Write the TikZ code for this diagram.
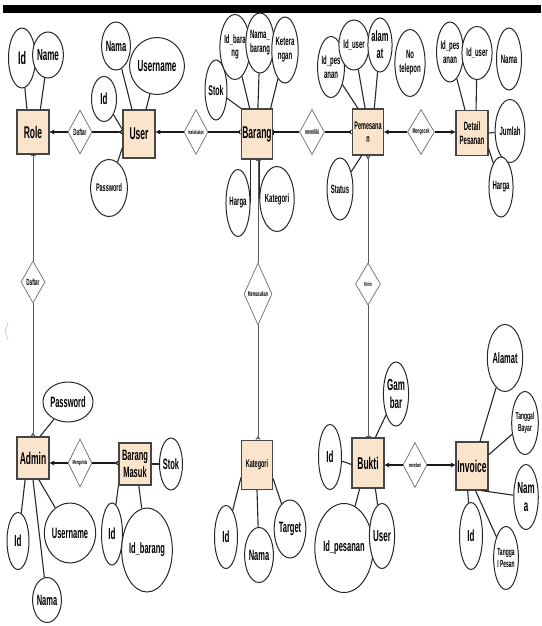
\documentclass[tikz,border=0pt]{standalone}
\usepackage{fontspec}
\setmainfont{Liberation Sans}[FakeStretch=0.5]
\usetikzlibrary{shapes.geometric,arrows.meta,shadows}
\definecolor{entfill}{RGB}{250,228,204}
\definecolor{entbdr}{RGB}{70,70,70}
\definecolor{attbdr}{RGB}{40,40,40}
\definecolor{relbdr}{RGB}{110,110,110}
\definecolor{lnclr}{RGB}{25,25,25}
\definecolor{vlnclr}{RGB}{90,90,90}
\tikzset{
  %% entity box
  ent/.style 2 args={rectangle,draw=entbdr,fill=entfill,line width=1.1pt,
    inner sep=0pt,align=center,minimum width=#1,minimum height=#2,
    drop shadow={shadow xshift=0.8pt,shadow yshift=-0.8pt,fill=black!45}},
  %% attribute oval
  att/.style 2 args={ellipse,draw=attbdr,fill=white,line width=1pt,
    inner sep=0pt,align=center,minimum width=#1,minimum height=#2},
  %% relationship diamond
  rel/.style 2 args={diamond,draw=relbdr,fill=white,line width=0.7pt,
    inner sep=0pt,align=center,minimum width=#1,minimum height=#2},
  %% text sizes
  fs/.style={font=\bfseries\fontsize{#1}{#1}\selectfont\setlength\baselineskip{1.15em}},
  %% lines
  lnk/.style={line width=1.8pt,draw=lnclr},
  vlnk/.style={line width=0.8pt,draw=vlnclr},
  aln/.style={line width=1.1pt,draw=attbdr},
  tipin/.tip={Stealth[length=5pt,width=5pt]},
  tipmany/.tip={Stealth[reversed,length=4pt,width=5pt]},
  tipone/.tip={Bar[width=5pt,line width=1pt]},
}
\begin{document}
\begin{tikzpicture}[x=1pt,y=-1pt]
  \fill[white] (0,0) rectangle (541,626);
  \useasboundingbox (0,0) rectangle (541,626);
  \fill[black] (3,5) rectangle (541,13);
  \draw[black!25,line width=0.6pt] (8,323) -- (5,331) -- (8,340);

  %% entities
  \node[ent={32}{44},fs=17] (role)      at (33,132)  {Role};
  \node[ent={32}{48},fs=17] (user)      at (139,134) {User};
  \node[ent={31}{50},fs=17] (barang)    at (257,134) {Barang};
  \node[ent={31}{46},fs=11] (pemesanan) at (368,132) {Pemesana\\n};
  \node[ent={32}{45},fs=12] (detail)    at (472,133) {Detail\\Pesanan};
  \node[ent={32}{42},fs=17] (admin)     at (33,458)  {Admin};
  \node[ent={32}{42},fs=15] (bmasuk)    at (135,464) {Barang\\Masuk};
  \node[ent={31}{49},fs=11] (kategori)  at (257,465) {Kategori};
  \node[ent={32}{50},fs=17] (bukti)     at (368,463) {Bukti};
  \node[ent={32}{48},fs=17] (invoice)   at (472,466) {Invoice};

  %% relationships
  \node[rel={24}{44},fs=9] (daftarA)   at (80,132)  {Daftar};
  \node[rel={24}{45},fs=6] (melakukan) at (196,132) {melakukan};
  \node[rel={25}{45},fs=7] (memiliki)  at (312,132) {memiliki};
  \node[rel={27}{45},fs=7] (mengecek)  at (421,132) {Mengecek};
  \node[rel={24}{42},fs=9] (daftarB)   at (33,282)  {Daftar};
  \node[rel={28}{62},fs=7] (memasukan) at (258,294) {Memasukan};
  \node[rel={25}{42},fs=6] (kirim)     at (368,284) {Kirim};
  \node[rel={24}{48},fs=6] (mengelola) at (80,463)  {Mengelola};
  \node[rel={24}{45},fs=6] (memberi)   at (415,465) {memberi};

  %% attributes: Role, User
  \node[att={27}{60},fs=18] (rid)    at (22,58)  {Id};
  \node[att={26}{46},fs=16] (rname)  at (48,55)  {Name};
  \node[att={25}{48},fs=15] (unama)  at (116,46) {Nama};
  \node[att={40}{57},fs=16] (uuser)  at (157,66) {Username};
  \node[att={25}{45},fs=16] (uid)    at (104,99) {Id};
  \node[att={35}{57},fs=11] (upass)  at (109,188) {Password};
  %% attributes: Barang
  \node[att={22}{60},fs=14] (bstok)  at (216,90) {Stok};
  \node[att={25}{65},fs=12] (bid)    at (235,47) {Id\_bara\\ng};
  \node[att={24}{60},fs=12] (bnama)  at (260,43) {Nama\_\\barang};
  \node[att={24}{66},fs=12] (bket)   at (285,50) {Ketera\\ngan};
  \node[att={23}{67},fs=12] (bharga) at (238,203) {Harga};
  \node[att={29}{65},fs=12] (bkat)   at (277,199) {Kategori};
  %% attributes: Pemesanan, Detail Pesanan
  \node[att={23}{61},fs=12] (pidp)   at (331,67) {Id\_pes\\anan};
  \node[att={25}{50},fs=12] (pidu)   at (354,45) {Id\_user};
  \node[att={23}{54},fs=15] (palam)  at (380,45) {alam\\at};
  \node[att={24}{67},fs=12] (ptelp)  at (410,63) {No\\telepon};
  \node[att={25}{62},fs=12] (pstat)  at (340,189) {Status};
  \node[att={25}{60},fs=12] (didp)   at (450,52) {Id\_pes\\anan};
  \node[att={25}{53},fs=12] (didu)   at (477,53) {Id\_user};
  \node[att={25}{62},fs=12] (dnama)  at (509,59) {Nama};
  \node[att={24}{63},fs=12] (djml)   at (510,131) {Jumlah};
  \node[att={23}{60},fs=12] (dharga) at (501,187) {Harga};
  %% attributes: Admin, Barang Masuk
  \node[att={43}{40},fs=15] (apass)  at (68,402) {Password};
  \node[att={22}{57},fs=16] (aid)    at (18,541) {Id};
  \node[att={40}{60},fs=15] (auser)  at (70,533) {Username};
  \node[att={23}{45},fs=15] (anama)  at (47,600) {Nama};
  \node[att={22}{52},fs=15] (mstok)  at (171,464) {Stok};
  \node[att={21}{62},fs=16] (mid)    at (112,534) {Id};
  \node[att={37}{84},fs=15] (midb)   at (147,550) {Id\_barang};
  %% attributes: Kategori, Bukti, Invoice
  \node[att={23}{63},fs=16] (kid)    at (226,537) {Id};
  \node[att={28}{55},fs=15] (knama)  at (259,555) {Nama};
  \node[att={25}{58},fs=15] (ktarget) at (290,529) {Target};
  \node[att={23}{64},fs=16] (tgambar) at (396,394) {Gam\\bar};
  \node[att={23}{65},fs=16] (tid)    at (330,457) {Id};
  \node[att={47}{89},fs=15] (tidp)   at (344,548) {Id\_pesanan};
  \node[att={23}{65},fs=16] (tuser)  at (382,536) {User};
  \node[att={35}{67},fs=15] (ialamat) at (505,358) {Alamat};
  \node[att={25}{63},fs=10] (itglb)  at (525,423) {Tanggal\\Bayar};
  \node[att={22}{65},fs=16] (inama)  at (526,497) {Nam\\a};
  \node[att={23}{67},fs=16] (iid)    at (471,536) {Id};
  \node[att={23}{63},fs=10] (itglp)  at (506,558) {Tangga\\l Pesan};

  %% attribute lines
  \draw[aln] (rid) -- (role.105);
  \draw[aln] (rname) -- (role.72);
  \draw[aln] (unama) -- (user.106);
  \draw[aln] (uuser) -- (user.74);
  \draw[aln] (uid) -- (user.165);
  \draw[aln] (upass) -- (user.219);
  \draw[aln] (bstok) -- (barang.north west);
  \draw[aln] (bid) -- (barang.106);
  \draw[aln] (bnama) -- (barang.88);
  \draw[aln] (bket) -- (barang.62);
  \draw[aln] (bharga.east |- barang.south) -- (bharga.east);
  \draw[aln] (bkat.west |- barang.south) -- (bkat.west);
  \draw[aln] (pidp) -- (pemesanan.113);
  \draw[aln] (pidu) -- (pemesanan.97);
  \draw[aln] (palam) -- (pemesanan.75);
  \draw[aln] (pstat) -- (pemesanan.255);
  \draw[aln] (didp) -- (detail.107);
  \draw[aln] (didu) -- (detail.80);
  \draw[aln] (djml) -- (detail.east);
  \draw[aln] (dharga) -- (detail.-43);
  \draw[aln] (apass) -- (admin.72);
  \draw[aln] (aid) -- (admin.250);
  \draw[aln] (auser) -- (admin.285);
  \draw[aln] (anama) -- (admin.south);
  \draw[aln] (mstok) -- (bmasuk.east);
  \draw[aln] (mid) -- (bmasuk.south west);
  \draw[aln] (midb) -- (bmasuk.280);
  \draw[aln] (kid) -- (kategori.218);
  \draw[aln] (knama) -- (kategori.south);
  \draw[aln] (ktarget) -- (kategori.-40);
  \draw[aln] (tgambar) -- (bukti.74);
  \draw[aln] (tid) -- (bukti.185);
  \draw[aln] (tidp) -- (bukti.252);
  \draw[aln] (tuser) -- (bukti.286);
  \draw[aln] (ialamat) -- (invoice.72);
  \draw[aln] (itglb) -- (invoice.34);
  \draw[aln] (inama) -- (invoice.-70);
  \draw[aln] (itglp) -- (invoice.-82);
  \draw[aln] (iid) -- (invoice.-100);

  %% relationship lines
  \draw[lnk,-tipin] (daftarA) -- (role);
  \draw[lnk,-tipmany] (daftarA.east) -- (daftarA.east -| user.west);
  \draw[lnk,-tipin] (melakukan.west) -- (melakukan.west -| user.east);
  \draw[lnk,-tipmany] (melakukan.east) -- (melakukan.east -| barang.west);
  \draw[lnk,-tipone] (memiliki.west) -- (memiliki.west -| barang.east);
  \draw[lnk,-tipmany] (memiliki.east) -- (memiliki.east -| pemesanan.west);
  \draw[lnk,-tipin] (mengecek.west) -- (mengecek.west -| pemesanan.east);
  \draw[lnk,-tipin] (mengecek.east) -- (mengecek.east -| detail.west);
  \draw[lnk,-tipin] (mengelola.west) -- (mengelola.west -| admin.east);
  \draw[lnk,-tipmany] (mengelola.east) -- (mengelola.east -| bmasuk.west);
  \draw[lnk,-tipin] (memberi.west) -- (memberi.west -| bukti.east);
  \draw[lnk,-tipin] (memberi.east) -- (memberi.east -| invoice.west);
  \draw[vlnk,-tipone] (daftarB) -- (role);
  \draw[vlnk,-tipmany] (daftarB) -- (admin);
  \draw[vlnk,-tipone] (memasukan.north) -- (memasukan.north |- barang.south);
  \draw[vlnk,-tipmany] (memasukan.south) -- (memasukan.south |- kategori.north);
  \draw[vlnk,-tipmany] (kirim) -- (pemesanan);
  \draw[vlnk,-tipone] (kirim) -- (bukti);
\end{tikzpicture}
\end{document}
